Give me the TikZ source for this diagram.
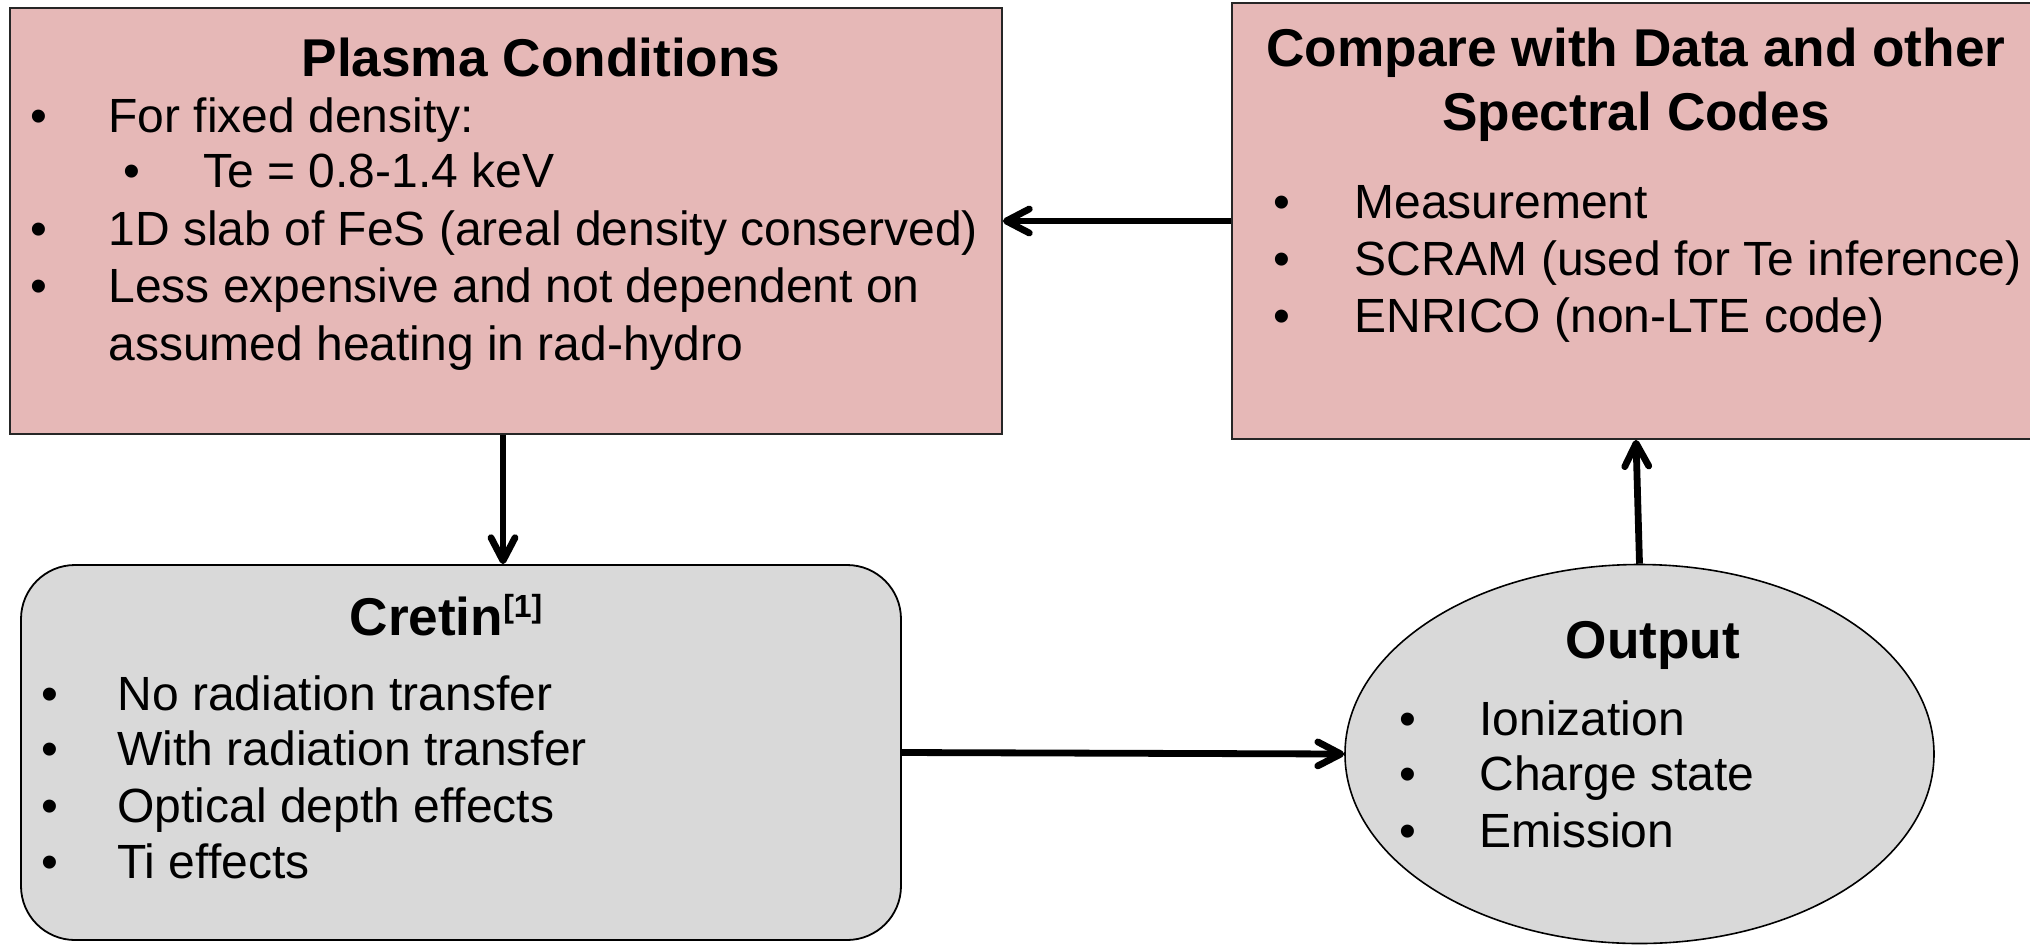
\documentclass[tikz,border=0pt]{standalone}
\usepackage{fontspec}
\setmainfont{Liberation Sans}
\usetikzlibrary{arrows.meta,shapes.geometric}
\definecolor{pinkfill}{HTML}{E6B8B7}
\definecolor{greyfill}{HTML}{D9D9D9}
\begin{document}
\begin{tikzpicture}[x=0.5pt,y=-0.5pt,
  pinkbox/.style={draw=black!85, line width=0.9pt, fill=pinkfill, rectangle, inner sep=0pt},
  roundbox/.style={draw=black, line width=0.9pt, fill=greyfill, rectangle, rounded corners=27pt, inner sep=0pt},
  ovalbox/.style={draw=black, line width=0.8pt, fill=greyfill, ellipse, inner sep=0pt},
  titletext/.style={anchor=base, inner sep=0pt, font=\fontsize{26.6}{30}\selectfont\bfseries},
  bodytext/.style={anchor=base west, inner sep=0pt, font=\fontsize{24}{28}\selectfont},
  bulletmark/.style={anchor=base, inner sep=0pt, font=\fontsize{24}{28}\selectfont},
  conn/.style={line width=3.4pt, -{Straight Barb[length=11.5pt,width=12pt,round]}}
]
\useasboundingbox (0,0) rectangle (2030,944);

% boxes
\node[pinkbox, minimum width=496pt, minimum height=213pt] (plasma) at (506,221) {};
\node[pinkbox, minimum width=404pt, minimum height=218pt] (compare) at (1636,221) {};
\node[roundbox, minimum width=440pt, minimum height=187.5pt] (cretin) at (461,752.5) {};
\node[ovalbox, minimum width=294.5pt, minimum height=189.5pt] (output) at (1639.5,754) {};

% Plasma Conditions
\node[titletext] (pt) at (541,76) {Plasma Conditions};
\node[bulletmark] (pb1) at (39,132) {•};
\node[bodytext] (p1) at (108,132) {For fixed density:};
\node[bulletmark] (pb2) at (132,187) {•};
\node[bodytext] (p2) at (203,187) {Te = 0.8-1.4 keV};
\node[bulletmark] (pb3) at (39,245) {•};
\node[bodytext] (p3) at (108,245) {1D slab of FeS (areal density conserved)};
\node[bulletmark] (pb4) at (39,302) {•};
\node[bodytext] (p4) at (108,302) {Less expensive and not dependent on};
\node[bodytext] (p5) at (108,360) {assumed heating in rad-hydro};

% Compare
\node[titletext] (ct1) at (1636,66) {Compare with Data and other};
\node[titletext] (ct2) at (1636,130) {Spectral Codes};
\node[bulletmark] (cb1) at (1282,218) {•};
\node[bodytext] (c1) at (1354,218) {Measurement};
\node[bulletmark] (cb2) at (1282,275) {•};
\node[bodytext] (c2) at (1354,275) {SCRAM (used for Te inference)};
\node[bulletmark] (cb3) at (1282,332) {•};
\node[bodytext] (c3) at (1354,332) {ENRICO (non-LTE code)};

% Cretin
\node[titletext] (rt) at (446,635) {Cretin\raisebox{9pt}{\fontsize{16}{16}\selectfont[1]}};
\node[bulletmark] (rb1) at (50,710) {•};
\node[bodytext] (r1) at (117,710) {No radiation transfer};
\node[bulletmark] (rb2) at (50,765) {•};
\node[bodytext] (r2) at (117,765) {With radiation transfer};
\node[bulletmark] (rb3) at (50,822) {•};
\node[bodytext] (r3) at (117,822) {Optical depth effects};
\node[bulletmark] (rb4) at (50,878) {•};
\node[bodytext] (r4) at (117,878) {Ti effects};

% Output
\node[titletext] (ot) at (1653,658) {Output};
\node[bulletmark] (ob1) at (1408,735) {•};
\node[bodytext] (o1) at (1479,735) {Ionization};
\node[bulletmark] (ob2) at (1408,790) {•};
\node[bodytext] (o2) at (1479,790) {Charge state};
\node[bulletmark] (ob3) at (1408,847) {•};
\node[bodytext] (o3) at (1479,847) {Emission};

% connectors
\draw[conn] (compare.west) -- (plasma.east);
\draw[conn] ([xshift=-1.5pt]plasma.south) -- ([xshift=-1.5pt]plasma.south |- cretin.north);
\draw[conn] (cretin.east) -- (output.west);
\draw[conn] (output.north) -- (compare.south);
\end{tikzpicture}
\end{document}
